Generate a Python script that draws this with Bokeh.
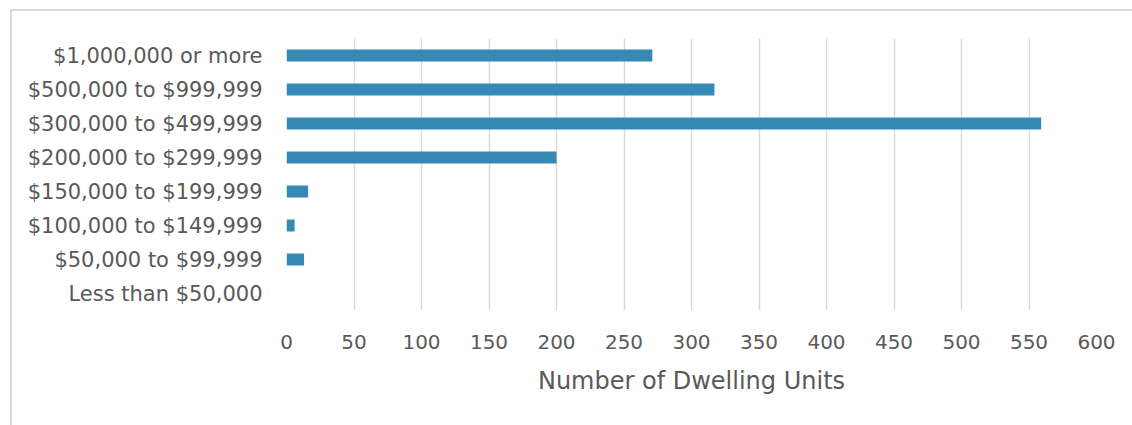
from bokeh.plotting import figure
from bokeh.models import FactorRange, Range1d
from bokeh.embed import file_html
from bokeh.resources import INLINE

# Home value brackets (top to bottom) and dwelling unit counts
categories = [
    "$1,000,000 or more",
    "$500,000 to $999,999",
    "$300,000 to $499,999",
    "$200,000 to $299,999",
    "$150,000 to $199,999",
    "$100,000 to $149,999",
    "$50,000 to $99,999",
    "Less than $50,000",
]
units = [271, 317, 559, 200, 16, 6, 13, 0]
x_ticks = [0, 50, 100, 150, 200, 250, 300, 350, 400, 450, 500, 550, 600]

FONT = "DejaVu Sans"
TEXT = "#595959"
GRID = "#d9d9d9"
BAR = "#348AB4"

# the figure sits 10px in and 9px down, with a light border on its top and left
p = figure(
    width=1122, height=416,
    y_range=FactorRange(factors=list(reversed(categories)), range_padding=0),
    x_range=Range1d(0, 600),
    output_backend="svg", toolbar_location=None,
    min_border_left=274, min_border_right=38,
    min_border_top=27, min_border_bottom=117,
    margin=(9, 0, 0, 10),
)
p.styles = {
    "border-top": "2px solid #d9d9d9",
    "border-left": "2px solid #d9d9d9",
}

p.hbar(y=categories, right=units, left=0, height=0.35, color=BAR, line_color=None)

p.background_fill_color = "white"
p.border_fill_color = "white"
p.outline_line_color = None

p.xaxis.ticker = x_ticks
p.xaxis.axis_line_color = None
p.xaxis.major_tick_line_color = None
p.xaxis.minor_tick_line_color = None
p.xaxis.major_tick_out = 0
p.xaxis.major_label_standoff = 24
p.xaxis.major_label_text_font = FONT
p.xaxis.major_label_text_font_size = "20px"
p.xaxis.major_label_text_color = TEXT
p.xaxis.axis_label = "Number of Dwelling Units"
p.xaxis.axis_label_text_font = FONT
p.xaxis.axis_label_text_font_size = "24px"
p.xaxis.axis_label_text_font_style = "normal"
p.xaxis.axis_label_text_color = TEXT
p.xaxis.axis_label_standoff = 15

p.yaxis.axis_line_color = None
p.yaxis.major_tick_line_color = None
p.yaxis.minor_tick_line_color = None
p.yaxis.major_tick_out = 0
p.yaxis.major_label_standoff = 24
p.yaxis.major_label_text_font = FONT
p.yaxis.major_label_text_font_size = "21px"
p.yaxis.major_label_text_color = TEXT

p.xgrid.grid_line_color = GRID
p.xgrid.grid_line_width = 1.5
p.ygrid.grid_line_color = None

open("out.html", "w").write(file_html(p, INLINE))
